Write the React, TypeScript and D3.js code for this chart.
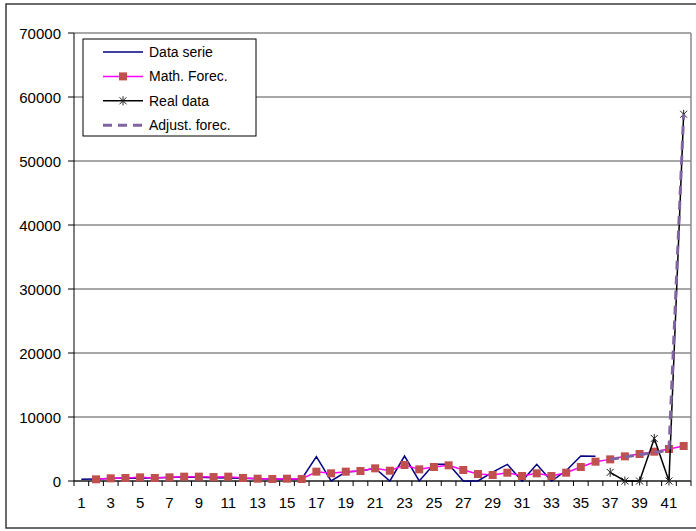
import React from "react";
import * as d3 from "d3";

const categories: number[] = d3.range(1, 43);
const yTicks: number[] = [0, 10000, 20000, 30000, 40000, 50000, 60000, 70000];

// Data serie (categories 1..36)
const dataSerie: number[] = [
  260, 330, 400, 450, 420, 500, 560, 620, 580, 520, 480, 420, 350, 300, 280, 320,
  3800, 0, 1400, 1560, 2000, 0, 3900, 0, 2600, 2600, 0, 0, 1400, 2600, 0, 2600,
  0, 1600, 3900, 3850,
];
// Math. Forec. (categories 2..42)
const mathForec: number[] = [
  260, 420, 470, 570, 470, 570, 680, 680, 620, 680, 470, 365, 310, 365, 310,
  1460, 1200, 1460, 1560, 1980, 1610, 2500, 1820, 2190, 2450, 1720, 1090, 940, 1300,
  780, 1200, 780, 1300, 2190, 3020, 3380, 3850, 4220, 4580, 5000, 5470,
];
// Real data (categories 37..42)
const realData: number[] = [1350, 0, 0, 6650, 0, 57300];
// Adjust. forec. (categories 37..42)
const adjustForec: number[] = [3380, 3750, 4100, 4450, 4850, 57300];

const W = 696;
const H = 531;
const FONT = "'Liberation Sans', Arial, sans-serif";

export default function App() {
  const x = d3.scaleBand<number>().domain(categories).range([74, 691]).padding(0);
  const y = d3.scaleLinear().domain([0, 70000]).range([481, 33]);
  const cx = (c: number) => (x(c) as number) + x.bandwidth() / 2;

  const pts = (vals: number[], start: number): [number, number][] =>
    vals.map((v, i) => [cx(start + i), y(v)]);

  const line = d3.line<[number, number]>();
  const dsPts = pts(dataSerie, 1);
  const mfPts = pts(mathForec, 2);
  const rdPts = pts(realData, 37);
  const afPts = pts(adjustForec, 37);

  const star = (px: number, py: number, s: number, key: any) => (
    <g key={key} stroke="#222" strokeWidth={1}>
      <line x1={px - s} y1={py - s} x2={px + s} y2={py + s} />
      <line x1={px - s} y1={py + s} x2={px + s} y2={py - s} />
      <line x1={px} y1={py - s - 1} x2={px} y2={py + s + 1} />
    </g>
  );

  const xTickPos = categories.map((c) => x(c) as number).concat([691]);

  const legendItems = ["Data serie", "Math. Forec.", "Real data", "Adjust. forec."];
  const legX = 83, legY = 39, legW = 173, legH = 97;

  return (
    <div style={{ position: "absolute", left: 0, top: 0 }}>
      <svg width={W} height={H} style={{ display: "block", background: "#fff" }}>
        {/* outer chart border */}
        <rect x={6} y={4} width={W} height={524} fill="#fff" stroke="#3a3a3a" strokeWidth={1.5} />
        {/* gridlines */}
        {yTicks.map((t) => (
          <line key={"g" + t} x1={74} x2={691} y1={y(t)} y2={y(t)} stroke="#8a8a8a" strokeWidth={1.3} />
        ))}
        {/* plot border right */}
        <line x1={691} x2={691} y1={33} y2={481} stroke="#8a8a8a" strokeWidth={1.5} />
        {/* y axis */}
        <line x1={74} x2={74} y1={33} y2={481} stroke="#000" strokeWidth={1} />
        {yTicks.map((t) => (
          <g key={"yt" + t}>
            <line x1={68} x2={74} y1={y(t)} y2={y(t)} stroke="#000" />
            <text x={61} y={y(t)} textAnchor="end" dominantBaseline="central" fontFamily={FONT} fontSize={15} fill="#000">
              {t}
            </text>
          </g>
        ))}
        {/* x axis */}
        <line x1={74} x2={691} y1={481} y2={481} stroke="#000" strokeWidth={1} />
        {xTickPos.map((p, i) => (
          <line key={"xt" + i} x1={p} x2={p} y1={481} y2={486} stroke="#000" />
        ))}
        {categories.filter((c) => c % 2 === 1).map((c) => (
          <text key={"xl" + c} x={cx(c)} y={508} textAnchor="middle" fontFamily={FONT} fontSize={15} fill="#000">
            {c}
          </text>
        ))}
        {/* Data serie */}
        <path d={line(dsPts) || ""} fill="none" stroke="#000080" strokeWidth={1.5} />
        {/* Math forecast */}
        <path d={line(mfPts) || ""} fill="none" stroke="#FF00FF" strokeWidth={1.5} />
        {mfPts.map(([px, py], i) => (
          <rect key={"m" + i} x={px - 4} y={py - 4} width={8} height={8} fill="#C0504D" />
        ))}
        {/* Real data */}
        <path d={line(rdPts) || ""} fill="none" stroke="#000" strokeWidth={1.5} />
        {rdPts.map(([px, py], i) => star(px, py, 3.5, "r" + i))}
        {/* Adjust forecast */}
        <path d={line(afPts) || ""} fill="none" stroke="#8064A2" strokeWidth={3} strokeDasharray="9,6" />
        {/* Legend */}
        <rect x={legX} y={legY} width={legW} height={legH} fill="#fff" stroke="#000" strokeWidth={1} />
        {legendItems.map((name, i) => {
          const ly = 52 + i * 24.4;
          const x1 = 103, x2 = 143, mid = (x1 + x2) / 2;
          return (
            <g key={"l" + i}>
              {i === 0 && <line x1={x1} x2={x2} y1={ly} y2={ly} stroke="#000080" strokeWidth={1.5} />}
              {i === 1 && (
                <g>
                  <line x1={x1} x2={x2} y1={ly} y2={ly} stroke="#FF00FF" strokeWidth={1.5} />
                  <rect x={mid - 4} y={ly - 4} width={8} height={8} fill="#C0504D" />
                </g>
              )}
              {i === 2 && (
                <g>
                  <line x1={x1} x2={x2} y1={ly} y2={ly} stroke="#000" strokeWidth={1.5} />
                  {star(mid, ly, 3.5, "ls")}
                </g>
              )}
              {i === 3 && (
                <line x1={x1} x2={x2} y1={ly} y2={ly} stroke="#8064A2" strokeWidth={3} strokeDasharray="9,6" />
              )}
              <text x={149} y={ly} dominantBaseline="central" fontFamily={FONT} fontSize={14} fill="#000">
                {name}
              </text>
            </g>
          );
        })}
      </svg>
    </div>
  );
}
